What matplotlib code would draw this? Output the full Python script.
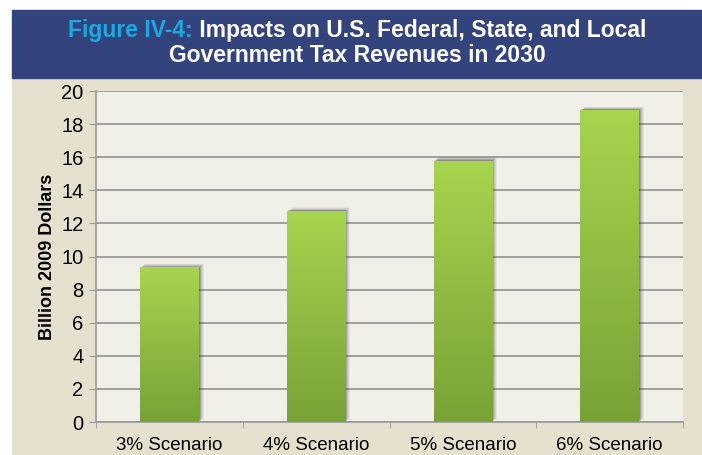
import numpy as np
import matplotlib
matplotlib.use("Agg")
import matplotlib.pyplot as plt
import matplotlib.transforms as mtransforms
from matplotlib.patches import Rectangle
from matplotlib import font_manager

categories = ["3% Scenario", "4% Scenario", "5% Scenario", "6% Scenario"]
values = [9.35, 12.75, 15.8, 18.85]
yticks = [0, 2, 4, 6, 8, 10, 12, 14, 16, 18, 20]

title_part1 = "Figure IV-4:"
title_part2 = " Impacts on U.S. Federal, State, and Local"
title_line2 = "Government Tax Revenues in 2030"

names = {f.name for f in font_manager.fontManager.ttflist}
title_font = "Liberation Sans Narrow" if "Liberation Sans Narrow" in names else "Liberation Sans"
plt.rcParams["font.family"] = ["Liberation Sans", "DejaVu Sans"]

fig = plt.figure(figsize=(7.02, 4.55), dpi=100)
W, H = 702, 455

# background panels
fig.patches.append(Rectangle((12 / W, 0), 1, (H - 78) / H, transform=fig.transFigure,
                             color="#E5E1CE", zorder=-2))
fig.patches.append(Rectangle((12 / W, (H - 78) / H), 1, 68 / H, transform=fig.transFigure,
                             color="#33437C", zorder=-2))

ax = fig.add_axes([96 / W, (H - 422) / H, 587 / W, 331 / H])
ax.set_zorder(1)
ax.set_facecolor("#F0F0E8")

x = np.arange(len(categories))
bw = 0.4
grad = np.linspace(0, 1, 256).reshape(-1, 1)
cmap = matplotlib.colors.LinearSegmentedColormap.from_list("g", ["#78A236", "#A9D44E"])

for xi, v in zip(x, values):
    # soft shadow, up and to the right
    for k, a in zip([1, 2, 3, 4, 5], [0.26, 0.2, 0.15, 0.1, 0.06]):
        off = mtransforms.ScaledTranslation(k / 100, k / 100 * 0.7, fig.dpi_scale_trans)
        ax.add_patch(Rectangle((xi - bw / 2, 0), bw, v, facecolor="#444444", alpha=a,
                               edgecolor="none", transform=ax.transData + off, zorder=2))
    bar = Rectangle((xi - bw / 2, 0), bw, v, facecolor="none", edgecolor="none", zorder=3)
    ax.add_patch(bar)
    im = ax.imshow(grad, extent=[xi - bw / 2, xi + bw / 2, 0, v], origin="lower",
                   cmap=cmap, aspect="auto", zorder=3)
    im.set_clip_path(bar)

ax.set_xlim(-0.5, len(categories) - 0.5)
ax.set_ylim(0, 20)
ax.set_yticks(yticks)
ax.set_yticklabels([str(t) for t in yticks], fontsize=14.5)
ax.set_xticks(x)
ax.set_xticklabels(categories, fontsize=13.5)
ax.tick_params(axis="x", length=0, pad=11)
ax.set_xticks(np.arange(-0.5, len(categories)), minor=True)
ax.tick_params(axis="x", which="minor", length=4, color="#999999")
ax.tick_params(axis="y", length=5, color="#999999", pad=4)
ax.grid(axis="y", color="#929292", linewidth=1.2, zorder=1)
ax.set_axisbelow(True)
for s in ["top", "right"]:
    ax.spines[s].set_visible(False)
for s in ["left", "bottom"]:
    ax.spines[s].set_color("#999999")
    ax.spines[s].set_linewidth(1.2)
ax.set_ylabel("Billion 2009 Dollars", fontsize=13, fontweight="bold", labelpad=4)

# title with two colours on the first line
fs = 16.5
r = fig.canvas.get_renderer()
t1 = fig.text(0, 0, title_part1, fontsize=fs, fontweight="bold", family=title_font)
t2 = fig.text(0, 0, title_part2, fontsize=fs, fontweight="bold", family=title_font)
w1 = t1.get_window_extent(r).width
w2 = t2.get_window_extent(r).width
cx = (12 + W) / 2
start = cx - (w1 + w2) / 2
t1.set_position((start / W, (H - 31) / H))
t1.set_color("#1BA9E1")
t1.set_va("center")
t2.set_position(((start + w1) / W, (H - 31) / H))
t2.set_color("white")
t2.set_va("center")
fig.text(cx / W, (H - 56) / H, title_line2, fontsize=fs, fontweight="bold",
         family=title_font, color="white", ha="center", va="center")

fig.savefig("out.png", dpi=100)
